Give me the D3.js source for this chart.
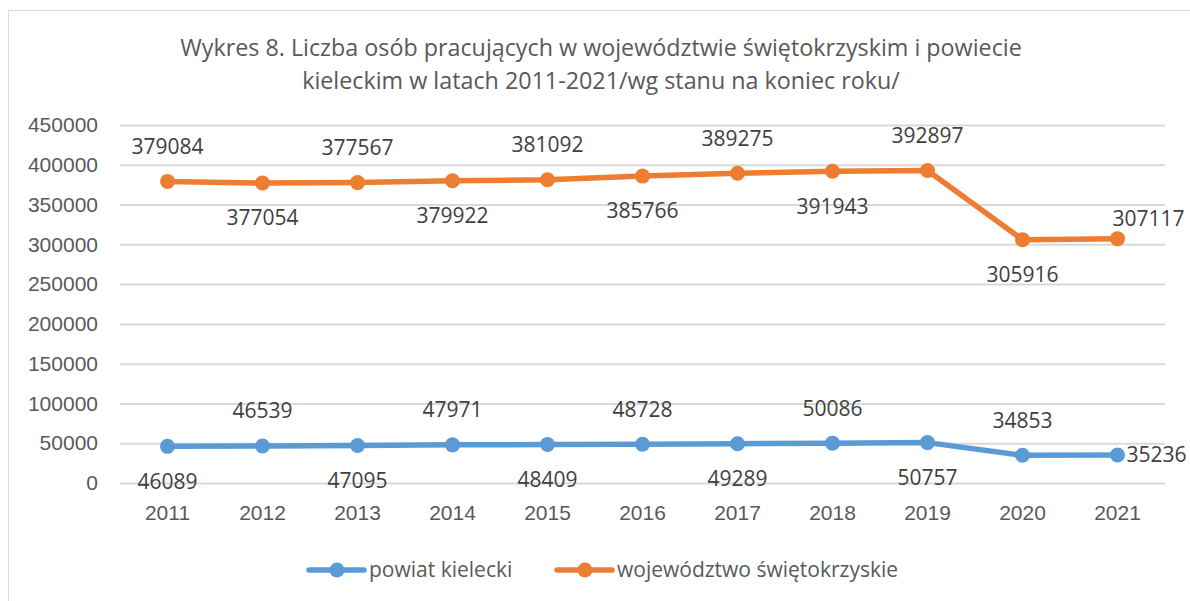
<!DOCTYPE html>
<html>
<head>
<meta charset="utf-8">
<script src="https://cdn.jsdelivr.net/npm/d3@7"></script>
<style>
  body { margin: 0; background: #fff; }
  svg { font-family: "Open Sans", sans-serif; }
</style>
</head>
<body>
<div id="main"></div>
<script>
// data
const years = ['2011', '2012', '2013', '2014', '2015', '2016', '2017', '2018', '2019', '2020', '2021'];
const powiat = [46089, 46539, 47095, 47971, 48409, 48728, 49289, 50086, 50757, 34853, 35236];
const wojewodztwo = [379084, 377054, 377567, 379922, 381092, 385766, 389275, 391943, 392897, 305916, 307117];
const yTicks = [0, 50000, 100000, 150000, 200000, 250000, 300000, 350000, 400000, 450000];
const titleLines = [
  'Wykres 8. Liczba osób pracujących w województwie świętokrzyskim i powiecie',
  'kieleckim w latach 2011-2021/wg stanu na koniec roku/'
];

// where each data label sits relative to its point
const powiatLabelPos = ['below', 'above', 'below', 'above', 'below', 'above', 'below', 'above', 'below', 'above', 'right'];
const wojLabelPos = ['above', 'below', 'above', 'below', 'above', 'below', 'above', 'below', 'above', 'below', 'aboveRight'];

const series = [
  {name: 'powiat kielecki', values: powiat, color: '#5b9bd5', pos: powiatLabelPos},
  {name: 'województwo świętokrzyskie', values: wojewodztwo, color: '#ed7d31', pos: wojLabelPos}
];

const width = 1190, height = 601;
const plot = {left: 120, right: 1165, top: 125, bottom: 483};
const fontSize = '21px';

const svg = d3.select('#main').append('svg')
  .attr('width', width)
  .attr('height', height);

svg.append('rect')
  .attr('x', 8.5).attr('y', 10.5)
  .attr('width', width).attr('height', height)
  .attr('fill', '#fff')
  .attr('stroke', '#d9d9d9');

const x = d3.scaleBand().domain(years).range([plot.left, plot.right]);
const y = d3.scaleLinear().domain([0, 450000]).range([plot.bottom, plot.top]);
const cx = d => x(d) + x.bandwidth() / 2;

// title
svg.append('g').selectAll('text')
  .data(titleLines)
  .join('text')
    .attr('x', 601)
    .attr('y', (d, i) => 56 + i * 33)
    .attr('text-anchor', 'middle')
    .attr('fill', '#595959')
    .style('font-size', '23.3px')
    .text(d => d);

// gridlines + y labels
const yAxis = svg.append('g')
  .attr('transform', `translate(${plot.left},0)`)
  .call(d3.axisLeft(y).tickValues(yTicks).tickSize(-(plot.right - plot.left)).tickPadding(22).tickFormat(d3.format('d')));
yAxis.select('.domain').remove();
yAxis.selectAll('.tick line').attr('stroke', '#d9d9d9').attr('stroke-width', 2);
yAxis.selectAll('.tick text').attr('fill', '#595959').style('font-size', fontSize);

// x labels
const xAxis = svg.append('g')
  .attr('transform', `translate(0,${plot.bottom})`)
  .call(d3.axisBottom(x).tickSize(0).tickPadding(22));
xAxis.select('.domain').remove();
xAxis.selectAll('.tick text').attr('fill', '#595959').style('font-size', fontSize);

const line = d3.line()
  .x((d, i) => cx(years[i]))
  .y(d => y(d));

series.forEach(s => {
  const g = svg.append('g');
  g.append('path')
    .datum(s.values)
    .attr('fill', 'none')
    .attr('stroke', s.color)
    .attr('stroke-width', 5.5)
    .attr('stroke-linejoin', 'round')
    .attr('d', line);
  g.selectAll('circle')
    .data(s.values)
    .join('circle')
      .attr('cx', (d, i) => cx(years[i]))
      .attr('cy', d => y(d))
      .attr('r', 7.5)
      .attr('fill', s.color);
  g.selectAll('text')
    .data(s.values)
    .join('text')
      .attr('x', (d, i) => {
        const p = s.pos[i];
        if (p === 'right') return cx(years[i]) + 9;
        if (p === 'aboveRight') return cx(years[i]) + 31;
        return cx(years[i]);
      })
      .attr('y', (d, i) => {
        const p = s.pos[i];
        if (p === 'above') return y(d) - 35;
        if (p === 'aboveRight') return y(d) - 20;
        if (p === 'below') return y(d) + 35;
        return y(d);
      })
      .attr('dy', '0.35em')
      .attr('text-anchor', (d, i) => s.pos[i] === 'right' ? 'start' : 'middle')
      .attr('fill', '#404040')
      .style('font-size', fontSize)
      .text(d => d);
});

// legend
const legend = svg.append('g').attr('transform', 'translate(0,570)');
const legendX = [309, 557];
series.forEach((s, i) => {
  const lg = legend.append('g').attr('transform', `translate(${legendX[i]},0)`);
  lg.append('line')
    .attr('x1', 0).attr('x2', 55)
    .attr('stroke', s.color).attr('stroke-width', 5.5).attr('stroke-linecap', 'round');
  lg.append('circle').attr('cx', 28).attr('r', 7.5).attr('fill', s.color);
  lg.append('text')
    .attr('x', 60).attr('dy', '0.35em')
    .attr('fill', '#595959')
    .style('font-size', fontSize)
    .text(s.name);
});
</script>
</body>
</html>
